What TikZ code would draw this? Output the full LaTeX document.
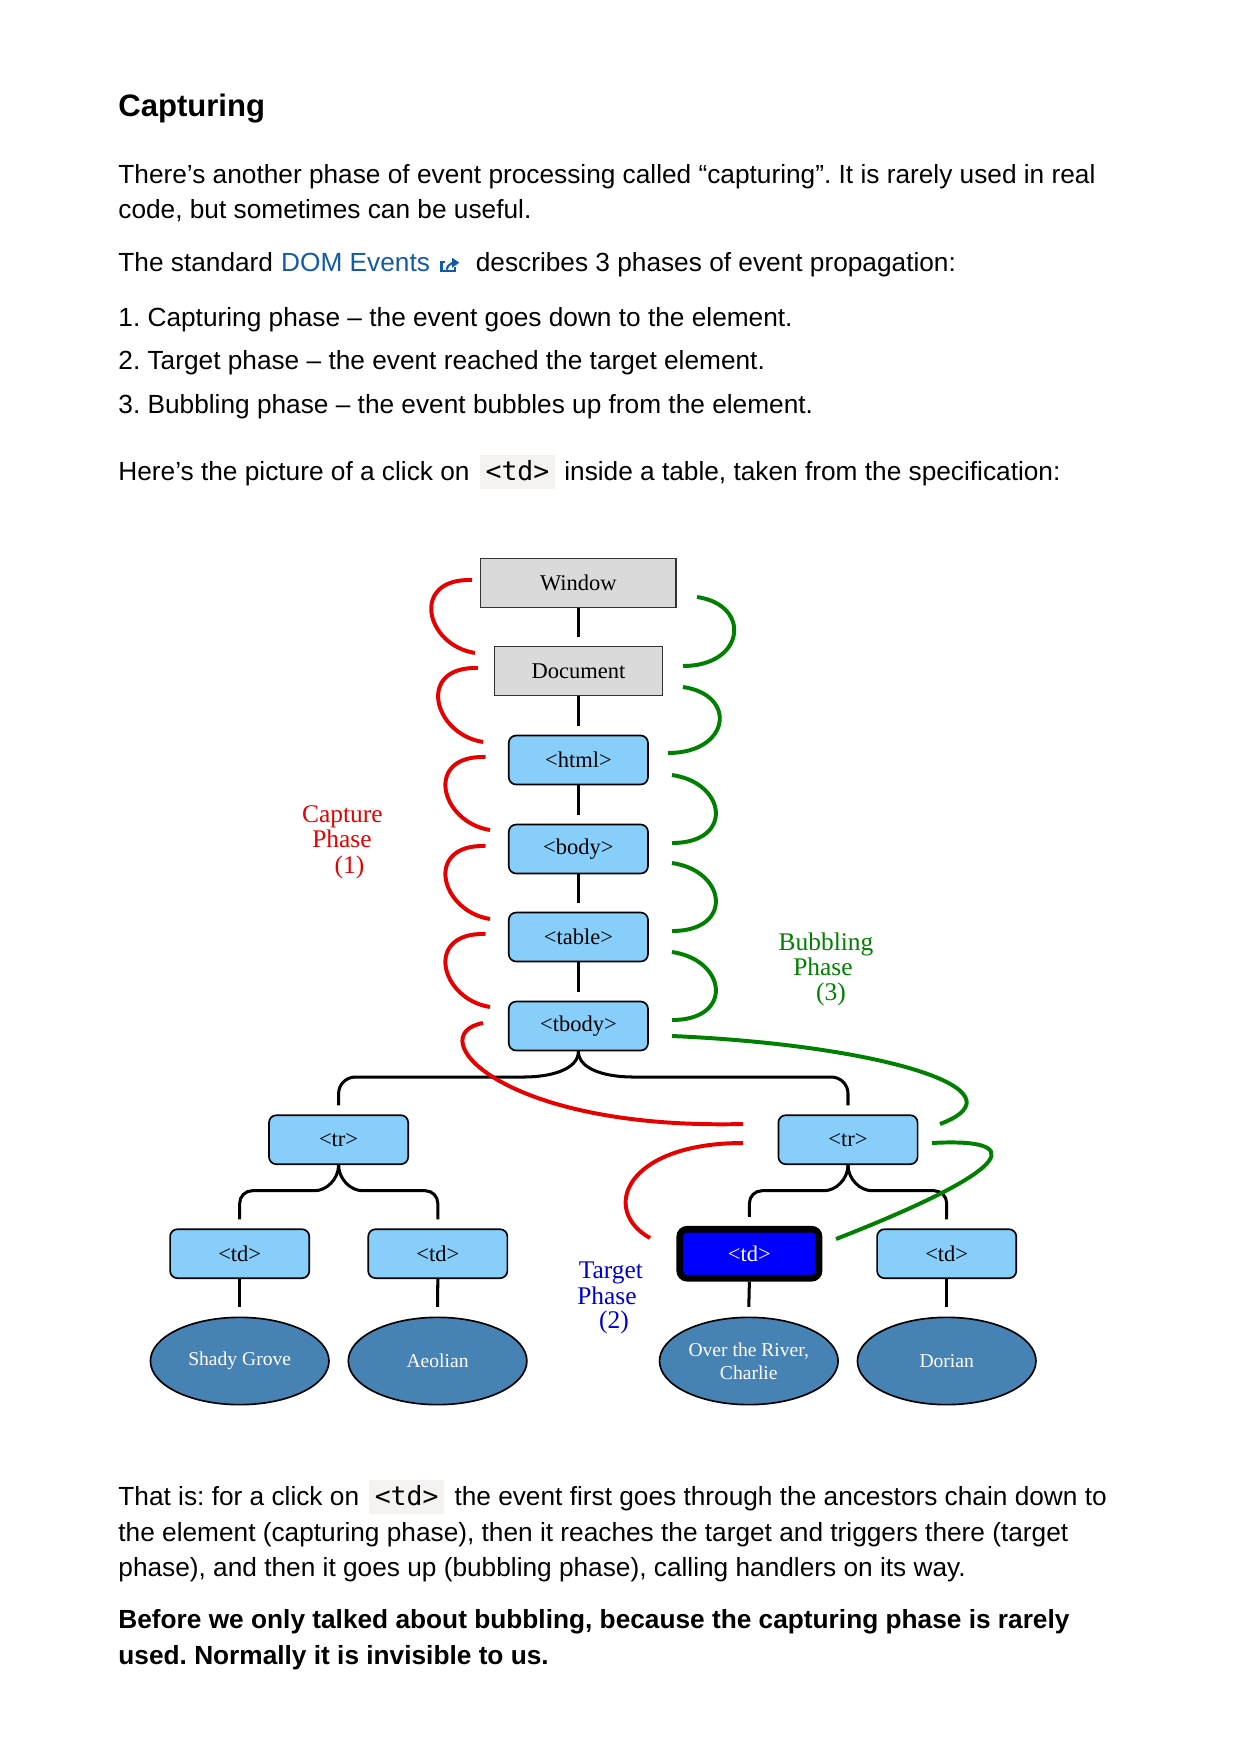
\documentclass[tikz,border=0pt]{standalone}
\usepackage{fontspec}
\setmainfont{Liberation Sans}
\newfontfamily\serifdom{Liberation Serif}
\newfontfamily\codefont{DejaVu Sans Mono}
\usetikzlibrary{shapes.geometric,calc,arrows.meta}
\frenchspacing

\definecolor{linkblue}{RGB}{19,91,168}
\definecolor{codebg}{RGB}{245,242,240}
\definecolor{boxgray}{RGB}{218,218,218}
\definecolor{boxblue}{RGB}{135,206,250}
\definecolor{leafblue}{RGB}{70,130,180}
\definecolor{capred}{RGB}{230,0,0}
\definecolor{bubgreen}{RGB}{0,128,0}
\definecolor{tgtblue}{RGB}{0,0,205}

\tikzset{
    paraline/.style={anchor=base west, inner sep=0pt, font=\fontsize{12.6}{14}\selectfont},
    codebox/.style={anchor=base west, fill=codebg, inner xsep=2.8pt, inner ysep=0pt,
        text height=12pt, text depth=4.5pt, font=\codefont\fontsize{12.7}{14}\selectfont},
    winbox/.style={draw=black!80, fill=boxgray, line width=0.8pt, inner sep=0pt,
        minimum height=23.5pt, font=\serifdom\fontsize{10.8}{13}\selectfont},
    elbox/.style={draw=black, fill=boxblue, rounded corners=3.5pt, line width=0.8pt,
        inner sep=0pt, minimum width=66.8pt, minimum height=23.5pt,
        font=\serifdom\fontsize{10.8}{13}\selectfont},
    targetbox/.style={fill=blue, line width=3.2pt, text=white},
    leafnode/.style={ellipse, draw=black, fill=leafblue, line width=0.8pt, inner sep=0pt,
        minimum width=85.7pt, minimum height=41.9pt, text=white,
        font=\serifdom\fontsize{9.4}{11}\selectfont},
    treeline/.style={line width=1.45pt},
    captureline/.style={draw=capred, line width=1.9pt},
    bubbleline/.style={draw=bubgreen, line width=1.9pt},
    phaselabel/.style={anchor=base, inner sep=0pt, font=\serifdom\fontsize{12.2}{14}\selectfont},
    icon/.style={draw=linkblue, line width=1pt}
}

\begin{document}
\begin{tikzpicture}[x=0.48pt, y=-0.48pt]

\useasboundingbox[fill=white] (0,0) rectangle (1240,1754);

% text above the picture
\node[paraline, font=\bfseries\fontsize{14.9}{17}\selectfont] (title) at (118,116.7) {Capturing};
\node[paraline] (intro1) at (118,183.3) {There’s another phase of event processing called “capturing”. It is rarely used in real};
\node[paraline] (intro2) at (118,218.3) {code, but sometimes can be useful.};
\node[paraline] (std) at (118,271.7) {The standard};
\node[paraline, text=linkblue] (dom) at ([xshift=3.5pt]std.base east) {DOM Events};
\coordinate (ico) at ([xshift=5.3pt]dom.base east);
\draw[icon] ($(ico)+(4,-9.5)$) -| ($(ico)+(0,-0.5)$) -| ($(ico)+(13.5,-5)$);
\draw[icon, -{Triangle[length=3.5pt,width=4.5pt]}] ($(ico)+(5,-2)$) .. controls +(1,-6) and +(-5,0) .. ($(ico)+(18,-9)$);
\node[paraline] (desc) at ([xshift=21.6pt]dom.base east) {describes 3 phases of event propagation:};
\node[paraline] (item1) at (118,326.7) {1. Capturing phase – the event goes down to the element.};
\node[paraline] (item2) at (118,369.3) {2. Target phase – the event reached the target element.};
\node[paraline] (item3) at (118,413.3) {3. Bubbling phase – the event bubbles up from the element.};
\node[paraline] (here) at (118,480) {Here’s the picture of a click on};
\node[codebox] (tdcode) at ([xshift=4.5pt]here.base east) {<td>};
\node[paraline] (inside) at ([xshift=4pt]tdcode.base east) {inside a table, taken from the specification:};

% the tree
\node[winbox, minimum width=93.9pt] (window) at (578.4,583) {Window};
\node[winbox, minimum width=80.6pt] (document) at (578.4,671) {Document};
\node[elbox] (html) at (578.4,760) {<html>};
\node[elbox] (body) at (578.4,849) {<body>};
\node[elbox] (table) at (578.4,937) {<table>};
\node[elbox] (tbody) at (578.4,1026) {<tbody>};
\node[elbox] (trl) at (338.6,1139.7) {<tr>};
\node[elbox] (trr) at (848,1139.7) {<tr>};
\node[elbox] (td1) at (239.7,1253.7) {<td>};
\node[elbox] (td2) at (437.8,1253.7) {<td>};
\node[elbox, targetbox] (td3) at (749.4,1253.7) {<td>};
\node[elbox] (td4) at (946.7,1253.7) {<td>};
\node[leafnode] (shady) at (239.7,1361) {Shady Grove};
\node[leafnode] (aeolian) at (437.6,1361) {Aeolian};
\node[leafnode, align=center] (river) at (748.8,1361) {Over the River,\\Charlie};
\node[leafnode] (dorian) at (946.7,1361) {Dorian};

\foreach \a/\b in {window/document, document/html, html/body, body/table, table/tbody}
    \draw[treeline] (\a.south) -- ([yshift=4.4pt]\b.north);

\draw[treeline] (tbody.south) .. controls +(0,18) and +(28,0) .. ++(-55,25.7)
    [rounded corners=8pt] -| ([yshift=4.3pt]trl.north);
\draw[treeline] (tbody.south) .. controls +(0,18) and +(-28,0) .. ++(55,25.7)
    [rounded corners=8pt] -| ([yshift=4.3pt]trr.north);
\draw[treeline] (trl.south) .. controls +(0,14) and +(12,0) .. ++(-24,25.7)
    [rounded corners=6pt] -| ([yshift=4.3pt]td1.north);
\draw[treeline] (trl.south) .. controls +(0,14) and +(-12,0) .. ++(24,25.7)
    [rounded corners=6pt] -| ([yshift=4.3pt]td2.north);
\draw[treeline] (trr.south) .. controls +(0,14) and +(12,0) .. ++(-24,25.7)
    [rounded corners=6pt] -| ([yshift=4.3pt]td3.north);
\draw[treeline] (trr.south) .. controls +(0,14) and +(-12,0) .. ++(24,25.7)
    [rounded corners=6pt] -| ([yshift=4.3pt]td4.north);

\foreach \a/\b in {td1/shady, td2/aeolian, td3/river, td4/dorian}
    \draw[treeline] (\a.south) -- ([yshift=4.6pt]\b.north);

% capture phase
\foreach \sx/\sy/\ex/\ey in {472/580/475/653, 478/668/483/742, 485.5/757/490/830,
        485.5/846/490/919, 485.5/934/490/1007}
    \draw[captureline] (\sx,\sy) .. controls +(-62,-2) and +(-50,-8) .. (\ex,\ey);
\draw[captureline] (483,1023) .. controls (420,1035) and (500,1130) .. (743,1124);
\draw[captureline] (743,1143) .. controls (625,1143) and (600,1210) .. (650,1238);

% bubbling phase
\foreach \sx/\sy/\ex/\ey in {697/597/683/666, 683/687/668/753, 672/775/672/843,
        672/863/672/931, 672/952/672/1020}
    \draw[bubbleline] (\sx,\sy) .. controls +(55,8) and +(62,0) .. (\ex,\ey);
\draw[bubbleline] (672,1036) .. controls (880,1045) and (1030,1090) .. (940,1124);
\draw[bubbleline] (932,1143) .. controls (1022,1138) and (1025,1165) .. (836,1239);

\foreach \t/\x/\y [count=\i] in {Capture/342.4/822.7, Phase/342/847.3, (1)/349.4/873}
    \node[phaselabel, text=capred] (capture\i) at (\x,\y) {\t};
\foreach \t/\x/\y [count=\i] in {Bubbling/826/950.7, Phase/822.9/975, (3)/831/1000}
    \node[phaselabel, text=bubgreen] (bubbling\i) at (\x,\y) {\t};
\foreach \t/\x/\y [count=\i] in {Target/610.8/1278, Phase/607/1304, (2)/614/1328}
    \node[phaselabel, text=tgtblue] (target\i) at (\x,\y) {\t};

% text below the picture
\node[paraline] (that) at (118,1505) {That is: for a click on};
\node[codebox] (tdcode2) at ([xshift=4.3pt]that.base east) {<td>};
\node[paraline] (chain) at ([xshift=4.5pt]tdcode2.base east) {the event first goes through the ancestors chain down to};
\node[paraline] (after2) at (118,1541.7) {the element (capturing phase), then it reaches the target and triggers there (target};
\node[paraline] (after3) at (118,1576.7) {phase), and then it goes up (bubbling phase), calling handlers on its way.};
\node[paraline, font=\bfseries\fontsize{12.6}{14}\selectfont] (bold1) at (118,1628.3) {Before we only talked about bubbling, because the capturing phase is rarely};
\node[paraline, font=\bfseries\fontsize{12.6}{14}\selectfont] (bold2) at (118,1664) {used. Normally it is invisible to us.};

\end{tikzpicture}
\end{document}
